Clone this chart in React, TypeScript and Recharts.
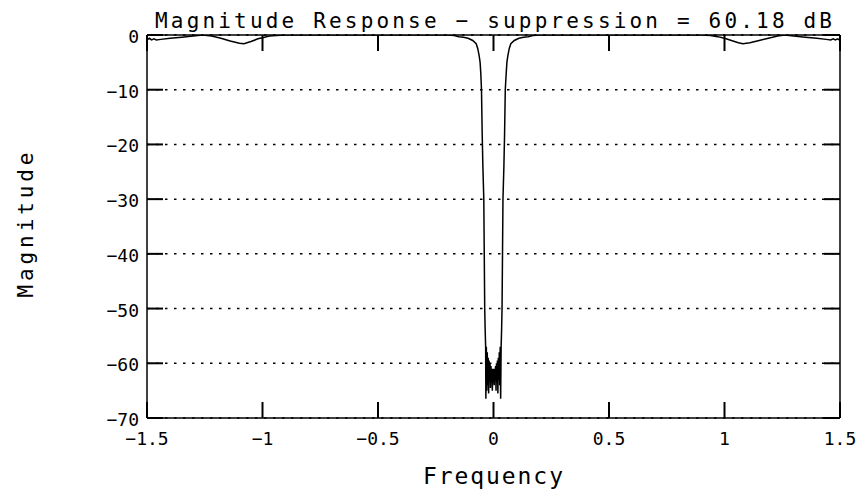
import React from "react";
import { LineChart, Line, XAxis, YAxis, CartesianGrid, Label, ReferenceLine } from "recharts";

const freqs = [
  -1.5, -1.49, -1.48, -1.47, -1.46, -1.44, -1.4, -1.35, -1.3, -1.26, -1.22, -1.18, -1.14, -1.1, -1.08,
  -1.05, -1.02, -1.0, -0.97, -0.94, -0.9, -0.8, -0.5, -0.3, -0.2, -0.17, -0.15, -0.13, -0.11, -0.09,
  -0.075, -0.068, -0.062, -0.058, -0.055, -0.052, -0.049, -0.046, -0.042, -0.04, -0.038, -0.036,
  -0.034, -0.033, -0.031, -0.029, -0.027, -0.025, -0.023, -0.021, -0.019, -0.017, -0.015, -0.013,
  -0.011, -0.009, -0.007, -0.005, -0.003, -0.001, 0.001, 0.003, 0.005, 0.007, 0.009, 0.011, 0.013,
  0.015, 0.017, 0.019, 0.021, 0.023, 0.025, 0.027, 0.029, 0.031, 0.033, 0.035, 0.037, 0.039, 0.041,
  0.045, 0.048, 0.051, 0.055, 0.058, 0.062, 0.068, 0.075, 0.09, 0.11, 0.13, 0.15, 0.17, 0.2, 0.3,
  0.5, 0.8, 0.9, 0.94, 0.97, 1.0, 1.03, 1.06, 1.08, 1.11, 1.15, 1.19, 1.23, 1.26, 1.3, 1.35, 1.4,
  1.44, 1.46, 1.47, 1.48, 1.49, 1.5,
];

const magnitudes = [
  -0.9, -0.6, -0.9, -0.7, -0.9, -0.8, -0.6, -0.4, -0.2, 0.0, -0.2, -0.6, -1.1, -1.5, -1.6,
  -1.2, -0.7, -0.5, -0.2, -0.1, 0, 0, 0, 0, 0, -0.1, -0.3, -0.4, -0.6, -1.0,
  -1.6, -2.5, -3.8, -5, -7, -10, -18, -24, -30, -40, -50, -54,
  -57, -66.5, -57, -65, -58, -64, -59, -65.5, -59.5, -63, -60, -64.5,
  -60.5, -63, -61, -65, -61, -63.5, -61, -64, -61, -63, -60.5, -65, -60,
  -63.5, -59.5, -65.5, -59, -63, -58, -64, -57, -66.5, -57, -54, -50, -40, -30,
  -24, -18, -10, -7, -5, -3.8, -2.5, -1.6, -1.0, -0.6, -0.4, -0.3, -0.1, 0, 0,
  0, 0, 0, -0.1, -0.3, -0.6, -1.0, -1.4, -1.6, -1.4, -1.0, -0.6, -0.2, 0, -0.2, -0.4, -0.6,
  -0.8, -0.9, -0.7, -0.9, -0.7, -1.0,
];

const xTicks = [-1.5, -1, -0.5, 0, 0.5, 1, 1.5];
const yTicks = [-70, -60, -50, -40, -30, -20, -10, 0];
const X_MAX = 1.5;
const Y_MAX = 0;

const titleText = "Magnitude Response \u2212 suppression = 60.18 dB";
const xLabelText = "Frequency";
const yLabelText = "Magnitude";

const data = freqs.map((f, i) => ({ f, m: magnitudes[i] }));

const FONT = "'DejaVu Sans Mono', monospace";
const fmt = (v: number) => (v < 0 ? "\u2212" + String(Math.abs(v)) : String(v));

// layout constants (plot box)
const PLOT_TOP = 35;
const PLOT_BOTTOM = 418;
const PLOT_LEFT = 147;
const PLOT_RIGHT = 840;
const TICK_LEN = 16;
const TICK_W = 2;
const TICK_COLOR = "#000";

const BottomTick = (props: any) => {
  const { x, y, payload } = props;
  const xx = Number(x);
  const yy = Number(y);
  const top = yy - (PLOT_BOTTOM - PLOT_TOP);
  return (
    <g>
      <line x1={xx} y1={yy} x2={xx} y2={yy - TICK_LEN} stroke={TICK_COLOR} strokeWidth={TICK_W} />
      <line x1={xx} y1={top} x2={xx} y2={top + TICK_LEN} stroke={TICK_COLOR} strokeWidth={TICK_W} />
      <text x={xx} y={yy + 27} textAnchor="middle" fontFamily={FONT} fontSize={18} fill="#000">
        {fmt(payload.value)}
      </text>
    </g>
  );
};

const LeftTick = (props: any) => {
  const { x, y, payload } = props;
  const xx = Number(x);
  const yy = Number(y);
  const right = xx + (PLOT_RIGHT - PLOT_LEFT);
  return (
    <g>
      <line x1={xx} y1={yy} x2={xx + TICK_LEN} y2={yy} stroke={TICK_COLOR} strokeWidth={TICK_W} />
      <line x1={right} y1={yy} x2={right - TICK_LEN} y2={yy} stroke={TICK_COLOR} strokeWidth={TICK_W} />
      <text x={xx - 8} y={yy + 8} textAnchor="end" fontFamily={FONT} fontSize={18} fill="#000">
        {fmt(payload.value)}
      </text>
    </g>
  );
};

const TitleContent = () => (
  <text x={155} y={28} fontFamily={FONT} fontSize={21} fill="#000" textLength={677} lengthAdjust="spacing">
    {titleText}
  </text>
);

const XLabelContent = () => (
  <text x={423} y={484} fontFamily={FONT} fontSize={23} fill="#000" textLength={140} lengthAdjust="spacing">
    {xLabelText}
  </text>
);

const YLabelContent = () => (
  <text
    x={33}
    y={225}
    transform="rotate(-90 33 225)"
    textAnchor="middle"
    fontFamily={FONT}
    fontSize={21}
    fill="#000"
    textLength={145}
    lengthAdjust="spacing"
  >
    {yLabelText}
  </text>
);

export default function App() {
  return (
    <div style={{ position: "absolute", left: 0, top: 0, width: 858, height: 491, background: "#fff" }}>
      <LineChart width={858} height={491} data={data} margin={{ top: 35, right: 18, bottom: 13, left: 0 }}>
        <CartesianGrid vertical={false} stroke="#000" strokeWidth={1.5} strokeDasharray="2.5 6.5" />
        <ReferenceLine y={Y_MAX} stroke="#000" strokeWidth={1.5} />
        <ReferenceLine x={X_MAX} stroke="#000" strokeWidth={1.5} />
        <Line
          type="linear"
          dataKey="m"
          stroke="#000"
          strokeWidth={1.5}
          dot={false}
          isAnimationActive={false}
        />
        <XAxis
          dataKey="f"
          type="number"
          domain={[-1.5, 1.5]}
          ticks={xTicks}
          allowDataOverflow
          height={60}
          tickSize={0}
          tickMargin={0}
          tickLine={false}
          tick={<BottomTick />}
          axisLine={{ stroke: "#000", strokeWidth: 1.5 }}
          interval={0}
        >
          <Label content={<XLabelContent />} />
        </XAxis>
        <YAxis
          type="number"
          domain={[-70, 0]}
          ticks={yTicks}
          allowDataOverflow
          width={147}
          tickSize={0}
          tickMargin={0}
          tickLine={false}
          tick={<LeftTick />}
          axisLine={{ stroke: "#000", strokeWidth: 1.5 }}
          interval={0}
        >
          <Label content={<YLabelContent />} />
          <Label content={<TitleContent />} />
        </YAxis>
      </LineChart>
    </div>
  );
}
